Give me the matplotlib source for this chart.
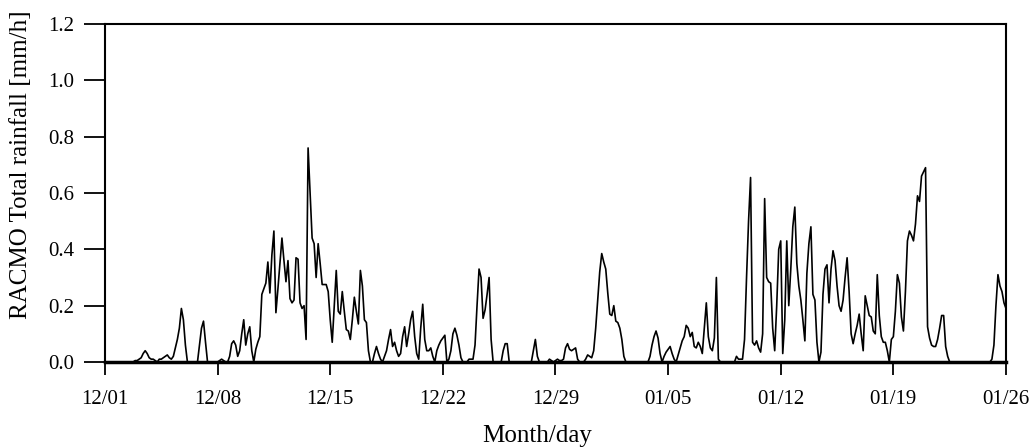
import matplotlib
matplotlib.use("Agg")
import matplotlib.pyplot as plt
import matplotlib.dates as mdates
import numpy as np
import pandas as pd

# RACMO total rainfall, 3-hourly values (mm/h), one list per week
week1 = [0, 0, 0, 0, 0, 0, 0, 0,
         0, 0, 0, 0, 0, 0, 0, 0.005,
         0.005, 0.01, 0.015, 0.03, 0.04, 0.03, 0.015, 0.01,
         0.01, 0.005, 0.0, 0.01, 0.01, 0.015, 0.02, 0.025,
         0.015, 0.01, 0.02, 0.05, 0.08, 0.12, 0.19, 0.15,
         0.06, 0, 0, 0, 0, 0, 0, 0.06,
         0.12, 0.145, 0.07, 0, 0, 0, 0, 0]
week2 = [0, 0.005, 0.01, 0.005, 0, 0, 0.02, 0.065,
         0.075, 0.06, 0.02, 0.04, 0.1, 0.15, 0.06, 0.1,
         0.125, 0.04, 0.0, 0.045, 0.07, 0.09, 0.24, 0.26,
         0.28, 0.355, 0.245, 0.38, 0.465, 0.175, 0.26, 0.35,
         0.44, 0.36, 0.285, 0.36, 0.225, 0.21, 0.22, 0.37,
         0.365, 0.21, 0.19, 0.2, 0.08, 0.76, 0.6, 0.44,
         0.42, 0.30, 0.42, 0.35, 0.275, 0.275, 0.275, 0.25]
week3 = [0.15, 0.07, 0.2, 0.325, 0.18, 0.17, 0.25, 0.18,
         0.115, 0.11, 0.08, 0.15, 0.23, 0.18, 0.135, 0.325,
         0.27, 0.15, 0.14, 0.04, 0, 0, 0.03, 0.055,
         0.03, 0.01, 0.0, 0.02, 0.04, 0.08, 0.115, 0.055,
         0.07, 0.04, 0.02, 0.03, 0.09, 0.125, 0.055, 0.1,
         0.15, 0.18, 0.09, 0.03, 0.01, 0.12, 0.205, 0.08,
         0.04, 0.04, 0.05, 0.02, 0.0, 0.04, 0.06, 0.075]
week4 = [0.085, 0.095, 0.0, 0.01, 0.04, 0.1, 0.12, 0.095,
         0.06, 0.015, 0, 0, 0, 0.01, 0.01, 0.01,
         0.06, 0.2, 0.33, 0.30, 0.155, 0.185, 0.24, 0.30,
         0.08, 0, 0, 0, 0, 0, 0.04, 0.065,
         0.065, 0, 0, 0, 0, 0, 0, 0,
         0, 0, 0, 0, 0, 0.04, 0.08, 0.02,
         0, 0, 0, 0, 0, 0.01, 0.005, 0]
week5 = [0.005, 0.01, 0.005, 0.005, 0.01, 0.05, 0.065, 0.045,
         0.04, 0.045, 0.05, 0.01, 0, 0, 0, 0.01,
         0.025, 0.02, 0.015, 0.04, 0.12, 0.22, 0.32, 0.385,
         0.355, 0.33, 0.245, 0.17, 0.165, 0.2, 0.145, 0.14,
         0.12, 0.08, 0.02, 0, 0, 0, 0, 0,
         0, 0, 0, 0, 0, 0, 0, 0.02,
         0.06, 0.09, 0.11, 0.085, 0.03, 0, 0.02, 0.035]
week6 = [0.045, 0.055, 0.03, 0.01, 0, 0.025, 0.05, 0.075,
         0.09, 0.13, 0.12, 0.09, 0.105, 0.055, 0.05, 0.07,
         0.055, 0.03, 0.12, 0.21, 0.09, 0.05, 0.04, 0.085,
         0.30, 0.01, 0, 0, 0, 0, 0, 0,
         0, 0, 0.02, 0.01, 0.01, 0.01, 0.08, 0.3,
         0.5, 0.655, 0.07, 0.06, 0.075, 0.05, 0.035, 0.1,
         0.58, 0.3, 0.285, 0.28, 0.12, 0.04, 0.2, 0.4]
week7 = [0.43, 0.03, 0.15, 0.43, 0.2, 0.33, 0.48, 0.55,
         0.35, 0.27, 0.22, 0.15, 0.075, 0.315, 0.42, 0.48,
         0.24, 0.22, 0.07, 0.0, 0.035, 0.24, 0.33, 0.345,
         0.21, 0.33, 0.395, 0.36, 0.27, 0.2, 0.18, 0.22,
         0.3, 0.37, 0.25, 0.1, 0.065, 0.1, 0.13, 0.17,
         0.1, 0.04, 0.235, 0.2, 0.165, 0.16, 0.11, 0.1,
         0.31, 0.165, 0.09, 0.07, 0.07, 0.04, 0.0, 0.08]
week8 = [0.09, 0.18, 0.31, 0.28, 0.16, 0.11, 0.25, 0.43,
         0.465, 0.45, 0.43, 0.49, 0.59, 0.57, 0.66, 0.675,
         0.69, 0.125, 0.085, 0.06, 0.055, 0.055, 0.08, 0.12,
         0.165, 0.165, 0.055, 0.02, 0, 0, 0, 0,
         0, 0, 0, 0, 0, 0, 0, 0,
         0, 0, 0, 0, 0, 0, 0, 0,
         0, 0.01, 0.06, 0.2, 0.31, 0.27, 0.25, 0.21,
         0.19]

start_date = "2015-12-01"
tick_step_days = 7
n_ticks = 9
y_ticks = [0.0, 0.2, 0.4, 0.6, 0.8, 1.0, 1.2]
y_label = "RACMO Total rainfall [mm/h]"
x_label = "Month/day"

rain = np.array(week1 + week2 + week3 + week4 + week5 + week6 + week7 + week8)
times = pd.date_range(start_date, periods=len(rain), freq="3h")
tick_dates = pd.date_range(start_date, periods=n_ticks, freq=f"{tick_step_days}D")

plt.rcParams["font.family"] = ["Liberation Serif", "DejaVu Serif"]

fig = plt.figure(figsize=(10.32, 4.48), dpi=100)
ax = fig.add_axes([0.1017, 0.192, 0.8731, 0.7544])

ax.plot(times, rain, color="black", linewidth=1.2, clip_on=False, zorder=3)

ax.set_xlim(tick_dates[0], tick_dates[-1])
ax.set_ylim(0, 1.2)
ax.set_xticks(tick_dates)
ax.xaxis.set_major_formatter(mdates.DateFormatter("%m/%d"))
ax.set_yticks(y_ticks)
ax.set_yticklabels([f"{v:.1f}" for v in y_ticks])

for side in ("left", "right", "top", "bottom"):
    ax.spines[side].set_linewidth(1.5)
    ax.spines[side].set_color("black")
ax.spines["bottom"].set_linewidth(2.5)

ax.tick_params(axis="y", direction="out", length=15, width=1.3,
               labelsize=15, pad=7, right=False)
ax.tick_params(axis="x", direction="out", length=9, width=1.3,
               labelsize=15, pad=11, top=False)

ax.set_ylabel(y_label, fontsize=18)
ax.yaxis.set_label_coords(-0.081, 0.585)
ax.set_xlabel(x_label, fontsize=18)
ax.xaxis.set_label_coords(0.48, -0.185)

fig.savefig("out.png", dpi=100, facecolor="white")
